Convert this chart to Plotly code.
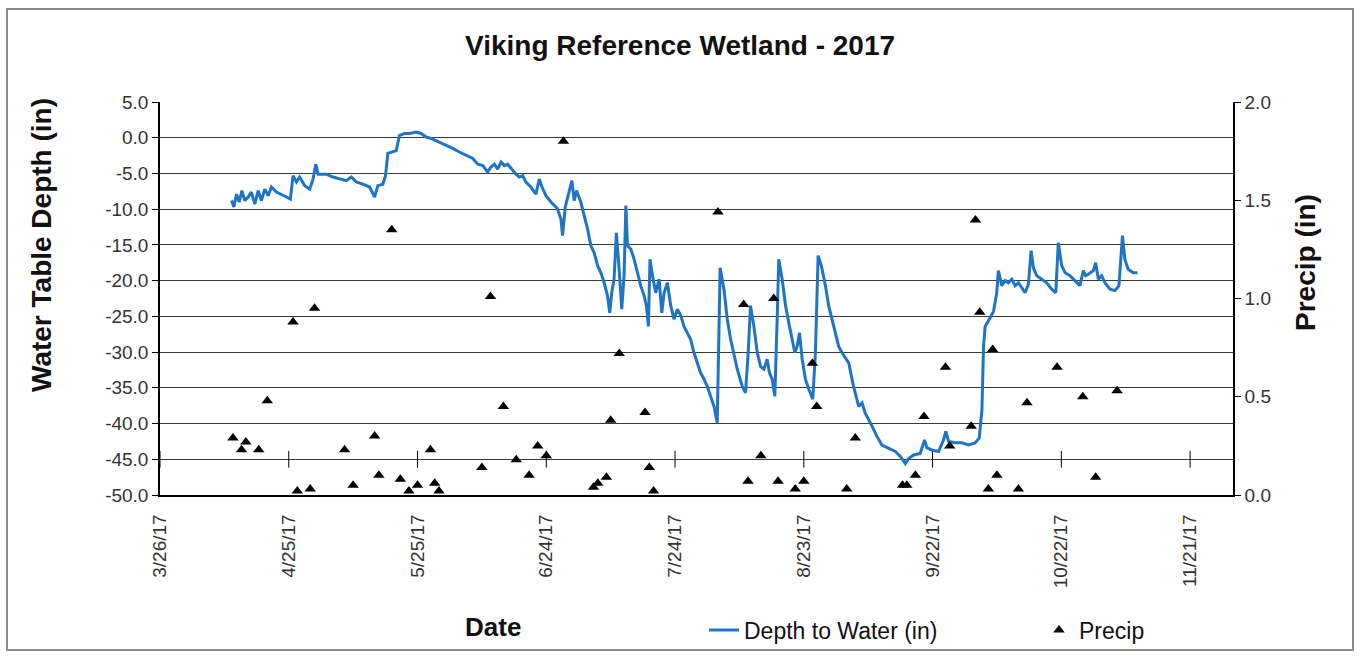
import pandas as pd
import plotly.graph_objects as go

# ---- data -------------------------------------------------------------
depth_times = [
    "2017-04-11 16:00", "2017-04-12 05:00", "2017-04-12 20:00", "2017-04-13 11:00",
    "2017-04-14 02:00", "2017-04-14 18:00", "2017-04-15 13:00", "2017-04-16 07:00",
    "2017-04-17 02:00", "2017-04-17 21:00", "2017-04-18 15:00", "2017-04-19 10:00",
    "2017-04-20 05:00", "2017-04-20 23:00", "2017-04-22 03:00", "2017-04-23 07:00",
    "2017-04-24 11:00", "2017-04-25 09:00", "2017-04-26 00:00", "2017-04-26 19:00",
    "2017-04-27 13:00", "2017-04-28 17:00", "2017-04-29 21:00", "2017-04-30 16:00",
    "2017-05-01 07:00", "2017-05-01 20:00", "2017-05-03 18:00", "2017-05-05 07:00",
    "2017-05-06 21:00", "2017-05-08 10:00", "2017-05-09 14:00", "2017-05-10 18:00",
    "2017-05-12 07:00", "2017-05-13 20:00", "2017-05-15 00:00", "2017-05-15 18:00",
    "2017-05-16 22:00", "2017-05-17 13:00", "2017-05-18 02:00", "2017-05-19 06:00",
    "2017-05-20 01:00", "2017-05-20 19:00", "2017-05-21 23:00", "2017-05-23 03:00",
    "2017-05-24 17:00", "2017-05-25 20:00", "2017-05-27 00:00", "2017-05-28 04:00",
    "2017-05-29 08:00", "2017-05-31 16:00", "2017-06-02 05:00", "2017-06-03 18:00",
    "2017-06-05 07:00", "2017-06-06 21:00", "2017-06-08 01:00", "2017-06-09 05:00",
    "2017-06-10 08:00", "2017-06-11 03:00", "2017-06-11 22:00", "2017-06-12 16:00",
    "2017-06-13 11:00", "2017-06-14 06:00", "2017-06-15 00:00", "2017-06-16 04:00",
    "2017-06-16 23:00", "2017-06-17 17:00", "2017-06-18 12:00", "2017-06-19 06:00",
    "2017-06-20 10:00", "2017-06-21 14:00", "2017-06-22 09:00", "2017-06-23 00:00",
    "2017-06-23 22:00", "2017-06-25 02:00", "2017-06-26 14:00", "2017-06-27 10:00",
    "2017-06-27 19:00", "2017-06-28 10:00", "2017-06-29 08:00", "2017-06-29 23:00",
    "2017-06-30 12:00", "2017-07-01 01:00", "2017-07-02 01:00", "2017-07-02 20:00",
    "2017-07-03 15:00", "2017-07-04 09:00", "2017-07-05 04:00", "2017-07-05 23:00",
    "2017-07-06 17:00", "2017-07-07 12:00", "2017-07-08 06:00", "2017-07-08 19:00",
    "2017-07-09 06:00", "2017-07-09 19:00", "2017-07-10 08:00", "2017-07-10 23:00",
    "2017-07-11 14:00", "2017-07-12 03:00", "2017-07-12 13:00", "2017-07-12 22:00",
    "2017-07-13 17:00", "2017-07-14 11:00", "2017-07-15 06:00", "2017-07-16 00:00",
    "2017-07-16 19:00", "2017-07-17 08:00", "2017-07-17 19:00", "2017-07-18 04:00",
    "2017-07-18 18:00", "2017-07-19 12:00", "2017-07-20 07:00", "2017-07-20 22:00",
    "2017-07-21 11:00", "2017-07-22 05:00", "2017-07-23 00:00", "2017-07-23 18:00",
    "2017-07-24 13:00", "2017-07-25 08:00", "2017-07-26 02:00", "2017-07-26 21:00",
    "2017-07-27 15:00", "2017-07-28 10:00", "2017-07-29 05:00", "2017-07-29 23:00",
    "2017-07-30 18:00", "2017-07-31 12:00", "2017-08-01 07:00", "2017-08-02 02:00",
    "2017-08-02 20:00", "2017-08-03 12:00", "2017-08-04 10:00", "2017-08-05 04:00",
    "2017-08-05 23:00", "2017-08-06 17:00", "2017-08-07 12:00", "2017-08-08 16:00",
    "2017-08-09 10:00", "2017-08-10 01:00", "2017-08-10 14:00", "2017-08-11 09:00",
    "2017-08-12 04:00", "2017-08-12 22:00", "2017-08-13 17:00", "2017-08-14 11:00",
    "2017-08-15 00:00", "2017-08-15 15:00", "2017-08-16 06:00", "2017-08-16 19:00",
    "2017-08-17 04:00", "2017-08-17 23:00", "2017-08-18 18:00", "2017-08-19 12:00",
    "2017-08-20 07:00", "2017-08-20 22:00", "2017-08-21 11:00", "2017-08-22 00:00",
    "2017-08-22 15:00", "2017-08-23 09:00", "2017-08-24 04:00", "2017-08-25 02:00",
    "2017-08-25 17:00", "2017-08-26 08:00", "2017-08-27 02:00", "2017-08-28 01:00",
    "2017-08-28 19:00", "2017-08-29 14:00", "2017-08-30 09:00", "2017-08-31 03:00",
    "2017-08-31 22:00", "2017-09-02 11:00", "2017-09-03 14:00", "2017-09-04 19:00",
    "2017-09-05 14:00", "2017-09-06 07:00", "2017-09-07 22:00", "2017-09-09 01:00",
    "2017-09-10 05:00", "2017-09-11 18:00", "2017-09-13 08:00", "2017-09-14 12:00",
    "2017-09-15 16:00", "2017-09-16 10:00", "2017-09-17 14:00", "2017-09-19 03:00",
    "2017-09-20 03:00", "2017-09-20 17:00", "2017-09-21 20:00", "2017-09-23 10:00",
    "2017-09-24 13:00", "2017-09-25 02:00", "2017-09-25 18:00", "2017-09-27 07:00",
    "2017-09-28 20:00", "2017-09-30 09:00", "2017-10-01 22:00", "2017-10-02 21:00",
    "2017-10-03 12:00", "2017-10-03 21:00", "2017-10-04 06:00", "2017-10-05 10:00",
    "2017-10-06 05:00", "2017-10-06 23:00", "2017-10-07 08:00", "2017-10-08 03:00",
    "2017-10-08 22:00", "2017-10-09 16:00", "2017-10-10 11:00", "2017-10-11 06:00",
    "2017-10-12 00:00", "2017-10-12 19:00", "2017-10-13 13:00", "2017-10-14 08:00",
    "2017-10-14 23:00", "2017-10-15 12:00", "2017-10-16 06:00", "2017-10-17 10:00",
    "2017-10-18 14:00", "2017-10-19 18:00", "2017-10-20 17:00", "2017-10-21 07:00",
    "2017-10-22 02:00", "2017-10-22 21:00", "2017-10-24 00:00", "2017-10-25 04:00",
    "2017-10-26 08:00", "2017-10-27 03:00", "2017-10-27 16:00", "2017-10-28 07:00",
    "2017-10-29 11:00", "2017-10-30 00:00", "2017-10-30 15:00", "2017-10-31 09:00",
    "2017-11-01 04:00", "2017-11-02 08:00", "2017-11-03 12:00", "2017-11-04 10:00",
    "2017-11-04 21:00", "2017-11-05 06:00", "2017-11-05 19:00", "2017-11-06 14:00",
    "2017-11-07 18:00", "2017-11-08 18:00",
]

depth_in = [
    -8.8, -9.7, -7.9, -9.0, -7.4, -8.8, -8.3, -7.6,
    -9.3, -7.4, -8.8, -7.2, -8.1, -6.9, -7.6, -7.9,
    -8.3, -8.6, -5.3, -6.2, -5.5, -6.7, -7.2, -5.8,
    -3.7, -5.1, -5.1, -5.5, -5.8, -6.0, -5.5, -6.2,
    -6.5, -6.9, -8.3, -6.7, -6.5, -5.3, -2.2, -2.0,
    -1.8, 0.3, 0.6, 0.6, 0.8, 0.6, 0.1, -0.1,
    -0.4, -1.1, -1.5, -2.0, -2.5, -2.9, -3.7, -3.9,
    -4.8, -4.1, -3.7, -4.4, -3.4, -3.9, -3.7, -4.6,
    -5.1, -5.5, -5.3, -6.2, -6.9, -7.9, -5.8, -6.9,
    -8.1, -9.0, -9.9, -11.4, -13.7, -9.7, -7.4, -6.0,
    -8.8, -7.4, -9.0, -10.9, -12.8, -15.1, -16.1, -17.9,
    -18.9, -20.3, -22.1, -24.5, -21.7, -19.8, -13.3, -18.3,
    -24.0, -19.3, -9.5, -15.1, -15.6, -17.0, -18.9, -20.7,
    -22.1, -23.5, -26.4, -17.0, -19.3, -21.7, -19.8, -24.5,
    -21.7, -20.3, -23.5, -25.4, -24.0, -24.9, -26.4, -27.3,
    -28.2, -30.1, -31.5, -32.9, -33.8, -34.8, -36.2, -37.6,
    -39.9, -18.2, -21.3, -25.4, -28.2, -30.1, -32.4, -34.8,
    -35.7, -30.1, -23.5, -26.4, -30.1, -32.0, -32.4, -31.0,
    -32.9, -33.8, -36.2, -25.4, -17.0, -19.8, -23.5, -25.9,
    -28.2, -30.1, -29.2, -27.3, -31.0, -33.8, -35.2, -36.6,
    -30.1, -16.5, -17.9, -20.7, -23.5, -25.4, -27.3, -29.2,
    -30.1, -31.5, -34.8, -37.6, -37.1, -38.5, -40.4, -41.8,
    -43.0, -43.4, -43.9, -44.6, -45.6, -44.9, -44.4, -44.2,
    -42.3, -43.4, -43.7, -43.9, -42.3, -41.1, -42.5, -42.7,
    -42.7, -43.0, -42.7, -42.0, -38.1, -29.2, -26.4, -25.2,
    -24.3, -21.7, -18.6, -20.7, -20.0, -20.3, -19.8, -20.7,
    -20.3, -21.0, -21.7, -20.5, -15.8, -18.2, -19.3, -19.8,
    -20.3, -21.2, -21.7, -14.7, -17.9, -18.9, -19.3, -20.0,
    -20.7, -18.6, -19.3, -19.1, -18.6, -17.5, -19.8, -19.3,
    -20.3, -21.2, -21.4, -20.7, -16.5, -13.7, -17.0, -18.4,
    -18.9, -18.9,
]

precip_dates = [
    "2017-04-12", "2017-04-14", "2017-04-15", "2017-04-18", "2017-04-20",
    "2017-04-26", "2017-04-27", "2017-04-30", "2017-05-01", "2017-05-08",
    "2017-05-10", "2017-05-15", "2017-05-16", "2017-05-19", "2017-05-21",
    "2017-05-23", "2017-05-25", "2017-05-28", "2017-05-29", "2017-05-30",
    "2017-06-09", "2017-06-11", "2017-06-14", "2017-06-17", "2017-06-20",
    "2017-06-22", "2017-06-24", "2017-06-28", "2017-07-05", "2017-07-06",
    "2017-07-08", "2017-07-09", "2017-07-11", "2017-07-17", "2017-07-18",
    "2017-07-19", "2017-08-03", "2017-08-09", "2017-08-10", "2017-08-13",
    "2017-08-16", "2017-08-17", "2017-08-21", "2017-08-23", "2017-08-25",
    "2017-08-26", "2017-09-02", "2017-09-04", "2017-09-15", "2017-09-16",
    "2017-09-18", "2017-09-20", "2017-09-25", "2017-09-26", "2017-10-01",
    "2017-10-02", "2017-10-03", "2017-10-05", "2017-10-06", "2017-10-07",
    "2017-10-12", "2017-10-14", "2017-10-21", "2017-10-27", "2017-10-30",
    "2017-11-04",
]

precip_in = [
    0.29, 0.23, 0.27, 0.23, 0.48,
    0.88, 0.02, 0.03, 0.95, 0.23,
    0.05, 0.30, 0.10, 1.35, 0.08,
    0.02, 0.05, 0.23, 0.06, 0.02,
    0.14, 1.01, 0.45, 0.18, 0.10,
    0.25, 0.20, 1.80, 0.04, 0.06,
    0.09, 0.38, 0.72, 0.42, 0.14,
    0.02, 1.44, 0.97, 0.07, 0.20,
    1.00, 0.07, 0.03, 0.07, 0.67,
    0.45, 0.03, 0.29, 0.05, 0.05,
    0.10, 0.40, 0.65, 0.25, 0.35,
    1.40, 0.93, 0.03, 0.74, 0.10,
    0.03, 0.47, 0.65, 0.50, 0.09,
    0.53,
]

# axis settings and tick labels
x_start = "2017-03-26"
x_end = "2017-12-01"
x_step_days = 30
x_tick_count = 9
depth_ticks = [5, 0, -5, -10, -15, -20, -25, -30, -35, -40, -45, -50]
depth_labels = ["5.0", "0.0", "-5.0", "-10.0", "-15.0", "-20.0", "-25.0",
                "-30.0", "-35.0", "-40.0", "-45.0", "-50.0"]
precip_ticks = [0, 0.5, 1.0, 1.5, 2.0]
precip_labels = ["0.0", "0.5", "1.0", "1.5", "2.0"]
cross_tick_level = -45             # gridline carrying the date tick marks

# ---- figure geometry ---------------------------------------------------
W, H = 1359, 657
L, R, T, B = 160, 126, 102, 162
PW, PH = W - L - R, H - T - B
Y_MIN, Y_MAX = depth_ticks[-1], depth_ticks[0]


def px_x(px):
    return (px - L) / PW


def px_y(py):
    return (H - B - py) / PH


FONT = "Arial, Liberation Sans, sans-serif"
LINE_BLUE = "#1f74c6"
x_step_ms = x_step_days * 86400000
tick_dates = pd.date_range(x_start, periods=x_tick_count, freq=f"{x_step_days}D")

fig = go.Figure()

# date tick marks sitting across the -45 in. gridline
fig.add_trace(go.Scatter(
    x=tick_dates, y=[cross_tick_level] * len(tick_dates), mode="markers",
    marker=dict(symbol="line-ns", size=12, line=dict(color="black", width=1)),
    hoverinfo="skip", showlegend=False, cliponaxis=False,
))

fig.add_trace(go.Scatter(
    x=depth_times, y=depth_in, mode="lines", name="Depth to Water (in)",
    line=dict(color=LINE_BLUE, width=3), xaxis="x", yaxis="y",
))

fig.add_trace(go.Scatter(
    x=precip_dates, y=precip_in, mode="markers", name="Precip",
    marker=dict(symbol="triangle-up", size=10, color="black"),
    xaxis="x", yaxis="y2",
))

fig.update_layout(
    width=W, height=H, autosize=False,
    margin=dict(l=L, r=R, t=T, b=B, pad=0),
    paper_bgcolor="white", plot_bgcolor="white",
    font=dict(family=FONT, color="#222"),
    showlegend=True,
    legend=dict(
        orientation="h", xref="container", yref="container",
        x=704 / W, y=1 - 630 / H,
        xanchor="left", yanchor="middle",
        font=dict(family=FONT, size=23, color="#111"),
        entrywidth=290, entrywidthmode="pixels",
        bgcolor="rgba(0,0,0,0)",
    ),
    xaxis=dict(
        type="date", range=[x_start, x_end],
        tick0=x_start, dtick=x_step_ms, tickformat="%-m/%-d/%y",
        tickangle=-90, ticks="", ticklabelstandoff=10,
        tickfont=dict(family=FONT, size=19, color="#333"),
        showgrid=False, zeroline=False,
        showline=True, linecolor="black", linewidth=1.5,
    ),
    yaxis=dict(
        range=[Y_MIN, Y_MAX], tickmode="array",
        tickvals=depth_ticks, ticktext=depth_labels,
        ticks="outside", ticklen=6, tickcolor="black",
        tickfont=dict(family=FONT, size=19, color="#333"),
        showgrid=True, gridcolor="#3a3a3a", gridwidth=1,
        zeroline=False, showline=True, linecolor="black", linewidth=1.5,
    ),
    yaxis2=dict(
        range=[precip_ticks[0], precip_ticks[-1]], tickmode="array",
        tickvals=precip_ticks, ticktext=precip_labels,
        overlaying="y", side="right", anchor="x",
        ticks="outside", ticklen=6, tickcolor="black",
        tickfont=dict(family=FONT, size=19, color="#333"),
        showgrid=False, zeroline=False,
        showline=True, linecolor="black", linewidth=1.5,
    ),
    annotations=[
        dict(text="<b>Viking Reference Wetland - 2017</b>", xref="paper", yref="paper",
             x=px_x(680), y=px_y(45), xanchor="center", yanchor="middle",
             showarrow=False, font=dict(family=FONT, size=28, color="#111")),
        dict(text="<b>Water Table Depth (in)</b>", xref="paper", yref="paper",
             x=px_x(41), y=px_y(245), xanchor="center", yanchor="middle",
             showarrow=False, textangle=-90,
             font=dict(family=FONT, size=28, color="#111")),
        dict(text="<b>Precip (in)</b>", xref="paper", yref="paper",
             x=px_x(1305), y=px_y(263), xanchor="center", yanchor="middle",
             showarrow=False, textangle=-90,
             font=dict(family=FONT, size=28, color="#111")),
        dict(text="<b>Date</b>", xref="paper", yref="paper",
             x=px_x(493), y=px_y(627), xanchor="center", yanchor="middle",
             showarrow=False, font=dict(family=FONT, size=26, color="#111")),
    ],
    shapes=[
        dict(type="rect", xref="paper", yref="paper",
             x0=px_x(7), x1=px_x(1353), y0=px_y(650), y1=px_y(9),
             line=dict(color="#8a8a8a", width=2), fillcolor="rgba(0,0,0,0)",
             layer="below"),
    ],
)

fig.write_html("out.html")
